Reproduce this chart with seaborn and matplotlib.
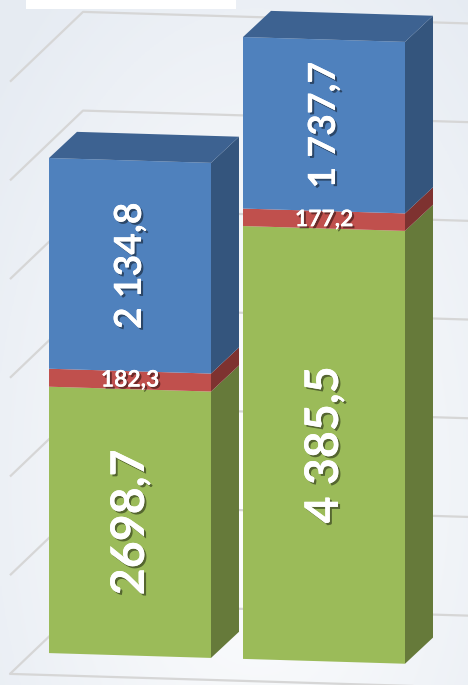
import numpy as np
import matplotlib
matplotlib.use("Agg")
import matplotlib.pyplot as plt
import matplotlib.transforms as mtransforms
import matplotlib.patheffects as pe
from matplotlib.patches import Polygon, Rectangle
import seaborn as sns

# data
categories = ["1", "2"]
green_vals = np.array([2698.7, 4385.5])
red_vals = np.array([182.3, 177.2])
blue_vals = np.array([2134.8, 1737.7])
green_labels = ["2698,7", "4 385,5"]
red_labels = ["182,3", "177,2"]
blue_labels = ["2 134,8", "1 737,7"]
grid_values = [0, 1000, 2000, 3000, 4000, 5000, 6000]

front_colors = ["#9bbb59", "#c0504d", "#4f81bd"]
side_colors = ["#667a3a", "#7e3230", "#34557d"]
top_color = "#3d6291"

W, H = 468, 685
px_x = 194.0      # pixels per category
px_y = 0.0987     # pixels per value unit
x0_px = 130.0
zero_px = H - 651.6
bar_w = 162 / px_x
DX = 28 / px_x
DY = 27 / px_y

sns.set_theme(style="white")
fig = plt.figure(figsize=(W / 100, H / 100), dpi=100)

# background gradient
bg = fig.add_axes([0, 0, 1, 1], zorder=-5)
yy, xx = np.mgrid[0:1:200j, 0:1:200j]
r = np.sqrt(((xx - 0.55) / 0.9) ** 2 + ((yy - 0.7) / 1.1) ** 2)
c0 = np.array([1.0, 1.0, 1.0])
c1 = np.array([0.905, 0.925, 0.952])
t = np.clip(r / 0.8, 0, 1)[..., None]
bg.imshow(c0 * (1 - t) + c1 * t, aspect="auto", extent=[0, 1, 0, 1])
bg.axis("off")

ax = fig.add_axes([0, 0, 1, 1])
ax.patch.set_alpha(0)

bottoms = [np.zeros(2), green_vals, green_vals + red_vals]
layers = [green_vals, red_vals, blue_vals]
for vals, bot, col in zip(layers, bottoms, front_colors):
    sns.barplot(x=categories, y=vals, bottom=bot, color=col, saturation=1,
                width=bar_w, linewidth=0, ax=ax, zorder=3)

ax.set_xlim(-x0_px / px_x, (W - x0_px) / px_x)
ax.set_ylim(-zero_px / px_y, (H - zero_px) / px_y)
ax.axis("off")

skew = mtransforms.Affine2D().skew(0, np.arctan(-0.03))
tr = ax.transData + skew
for p in ax.patches:
    p.set_transform(tr)

# 3d side and top faces
for i in range(len(categories)):
    xr = i + bar_w / 2
    xl = i - bar_w / 2
    for vals, bot, col in zip(layers, bottoms, side_colors):
        b = bot[i]
        tp = bot[i] + vals[i]
        ax.add_patch(Polygon([(xr, b), (xr, tp), (xr + DX, tp + DY), (xr + DX, b + DY)],
                             closed=True, facecolor=col, edgecolor="none", transform=tr, zorder=3))
    top = bottoms[2][i] + blue_vals[i]
    ax.add_patch(Polygon([(xl, top), (xr, top), (xr + DX, top + DY), (xl + DX, top + DY)],
                         closed=True, facecolor=top_color, edgecolor="none", transform=tr, zorder=3))

# walls and gridlines
wall_front_x = (10 - x0_px) / px_x
wall_back_x = (83 - x0_px) / px_x
right_x = (W + 20 - x0_px) / px_x
front_off = -22 / px_y
back_off = 50 / px_y
grid_col = "#d6d6d6"
for v in grid_values:
    ax.plot([wall_front_x, wall_back_x, right_x], [v + front_off, v + back_off, v + back_off],
            color=grid_col, lw=1.6, transform=tr, zorder=1, solid_capstyle="butt")
ax.plot([wall_front_x, right_x], [front_off, front_off], color=grid_col, lw=1.6,
        transform=tr, zorder=1)

# labels
shadow = [pe.withSimplePatchShadow(offset=(1.5, -1.5), shadow_rgbFace="black", alpha=0.45), pe.Normal()]
font = ["Lato", "DejaVu Sans"]
for i in range(len(categories)):
    ax.text(i, green_vals[i] / 2, green_labels[i], rotation=90, ha="center", va="center",
            color="white", fontsize=33.5, fontweight="bold", family=font, transform=tr,
            path_effects=shadow, zorder=5)
    ax.text(i, green_vals[i] + red_vals[i] / 2, red_labels[i], ha="center", va="center",
            color="white", fontsize=16.5, fontweight="bold", family=font, transform=tr,
            path_effects=shadow, zorder=5)
    ax.text(i, bottoms[2][i] + blue_vals[i] / 2, blue_labels[i], rotation=90, ha="center",
            va="center", color="white", fontsize=27, fontweight="bold", family=font,
            transform=tr, path_effects=shadow, zorder=5)

# white box at top left
fig.patches.append(Rectangle((26 / W, 1 - 9 / H), 210 / W, 9 / H, transform=fig.transFigure,
                             facecolor="white", edgecolor="none", zorder=10))

fig.savefig("out.png", dpi=100)
